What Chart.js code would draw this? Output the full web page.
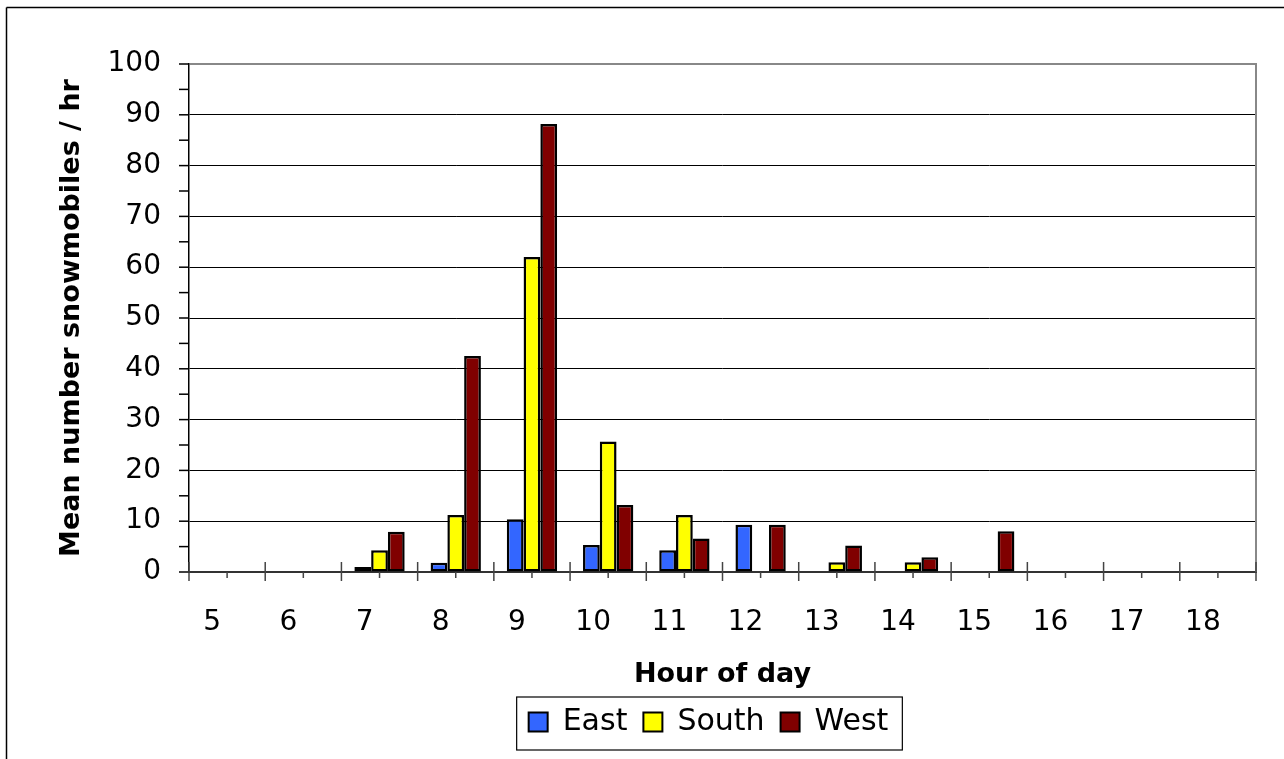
<!DOCTYPE html>
<html lang="en">
<head>
  <meta charset="UTF-8">
  <title>Snowmobiles per hour</title>
  <script src="https://cdn.jsdelivr.net/npm/chart.js"></script>
  <style>
    html, body { margin: 0; padding: 0; background: #fff; }
    canvas { display: block; }
  </style>
</head>
<body>
  <canvas id="snowChart" width="1284" height="759"></canvas>

  <script>
    // data
    const hours = ['5', '6', '7', '8', '9', '10', '11', '12', '13', '14', '15', '16', '17', '18'];
    const east  = [0, 0, 1.0, 1.8, 10.4, 5.3, 4.3, 9.3, 0, 0, 0, 0, 0, 0];
    const south = [0, 0, 4.3, 11.2, 62.0, 25.7, 11.2, 0, 1.9, 1.9, 0, 0, 0, 0];
    const west  = [0, 0, 7.9, 42.5, 88.2, 13.2, 6.6, 9.3, 5.2, 2.9, 8.0, 0, 0, 0];
    const yTicks = [0, 10, 20, 30, 40, 50, 60, 70, 80, 90, 100];

    Chart.defaults.font.family = '"DejaVu Sans", sans-serif';
    Chart.defaults.color = '#000';

    const LEGEND_SHIFT = -14;

    function line(ctx, x1, y1, x2, y2) {
      ctx.beginPath();
      ctx.moveTo(x1, y1);
      ctx.lineTo(x2, y2);
      ctx.stroke();
    }

    // frame, axis tick marks and legend box, the way the old spreadsheet drew them
    const decorations = {
      id: 'decorations',
      afterLayout(chart) {
        chart.legend.left += LEGEND_SHIFT;
        chart.legend.right += LEGEND_SHIFT;
      },
      afterDatasetsDraw(chart) {
        const { ctx, chartArea: a, scales: { x, y } } = chart;
        ctx.save();
        ctx.strokeStyle = '#888';
        ctx.lineWidth = 2;
        line(ctx, a.right, a.top - 1, a.right, a.bottom);

        ctx.strokeStyle = '#000';
        ctx.lineWidth = 1.5;
        for (let v = yTicks[0]; v <= yTicks[yTicks.length - 1]; v += 5) {
          const py = y.getPixelForValue(v);
          line(ctx, a.left - 10, py, a.left, py);
        }

        ctx.strokeStyle = '#444';
        for (let i = 0; i <= hours.length; i++) {
          const px = x.getPixelForValue(i - 0.5);
          line(ctx, px, a.bottom - 10, px, a.bottom + 9);
        }
        for (let i = 0; i < hours.length; i++) {
          const px = x.getPixelForValue(i);
          line(ctx, px, a.bottom, px, a.bottom + 6);
        }
        ctx.restore();
      },
      afterDraw(chart) {
        const { ctx } = chart;
        ctx.save();
        ctx.strokeStyle = '#000';
        ctx.lineWidth = 1.5;
        line(ctx, 6.5, 7.5, 6.5, chart.height);
        line(ctx, 6.5, 7.5, chart.width, 7.5);

        const boxes = chart.legend.legendHitBoxes;
        if (boxes && boxes.length) {
          const l = Math.min(...boxes.map(b => b.left));
          const r = Math.max(...boxes.map(b => b.left + b.width));
          const t = Math.min(...boxes.map(b => b.top));
          const btm = Math.max(...boxes.map(b => b.top + b.height));
          ctx.lineWidth = 1.2;
          ctx.strokeRect(l - 12, t - 10, r - l + 26, btm - t + 23);
        }
        ctx.restore();
      }
    };

    const ctx = document.getElementById('snowChart').getContext('2d');
    const chart = new Chart(ctx, {
      type: 'bar',
      data: {
        labels: hours,
        datasets: [
          { label: 'East', data: east, backgroundColor: '#3366ff' },
          { label: 'South', data: south, backgroundColor: '#ffff00' },
          { label: 'West', data: west, backgroundColor: '#800000' }
        ]
      },
      options: {
        responsive: false,
        animation: false,
        layout: { padding: { top: 64, right: 28, left: 0, bottom: 12 } },
        datasets: {
          bar: {
            borderColor: '#000',
            borderWidth: 2.5,
            borderSkipped: false,
            categoryPercentage: 0.66,
            barPercentage: 1.0
          }
        },
        plugins: {
          tooltip: { enabled: false },
          legend: {
            position: 'bottom',
            fullSize: false,
            labels: {
              boxWidth: 19,
              boxHeight: 19,
              padding: 16,
              color: '#000',
              font: { size: 30 },
              generateLabels(c) {
                return c.data.datasets.map((ds, i) => ({
                  text: ds.label,
                  fillStyle: ds.backgroundColor,
                  strokeStyle: '#000',
                  lineWidth: 2,
                  hidden: false,
                  datasetIndex: i
                }));
              }
            }
          }
        },
        scales: {
          x: {
            offset: true,
            grid: { display: false, drawTicks: false },
            border: { color: '#333', width: 2 },
            ticks: {
              font: { size: 28 },
              color: '#000',
              padding: 34,
              labelOffset: -15,
              maxRotation: 0,
              autoSkip: false
            },
            title: {
              display: true,
              text: 'Hour of day',
              color: '#000',
              font: { size: 27, weight: 'bold', lineHeight: 1 },
              padding: { top: 0, bottom: 3 }
            },
            afterFit(s) { s.height = 119; }
          },
          y: {
            min: yTicks[0],
            max: yTicks[yTicks.length - 1],
            afterBuildTicks(s) { s.ticks = yTicks.map(v => ({ value: v })); },
            grid: {
              drawTicks: false,
              color: c => c.tick.value === 100 ? '#888' : (c.tick.value === 0 ? 'rgba(0,0,0,0)' : '#000'),
              lineWidth: c => c.tick.value === 100 ? 2 : 1
            },
            border: { color: '#000', width: 1.5 },
            ticks: { font: { size: 28 }, color: '#000', padding: 28 },
            title: {
              display: true,
              text: 'Mean number snowmobiles / hr',
              color: '#000',
              font: { size: 27, weight: 'bold' },
              padding: { top: 56, bottom: 0 }
            },
            afterFit(s) { s.width = 189; }
          }
        }
      },
      plugins: [decorations]
    });
  </script>
</body>
</html>
